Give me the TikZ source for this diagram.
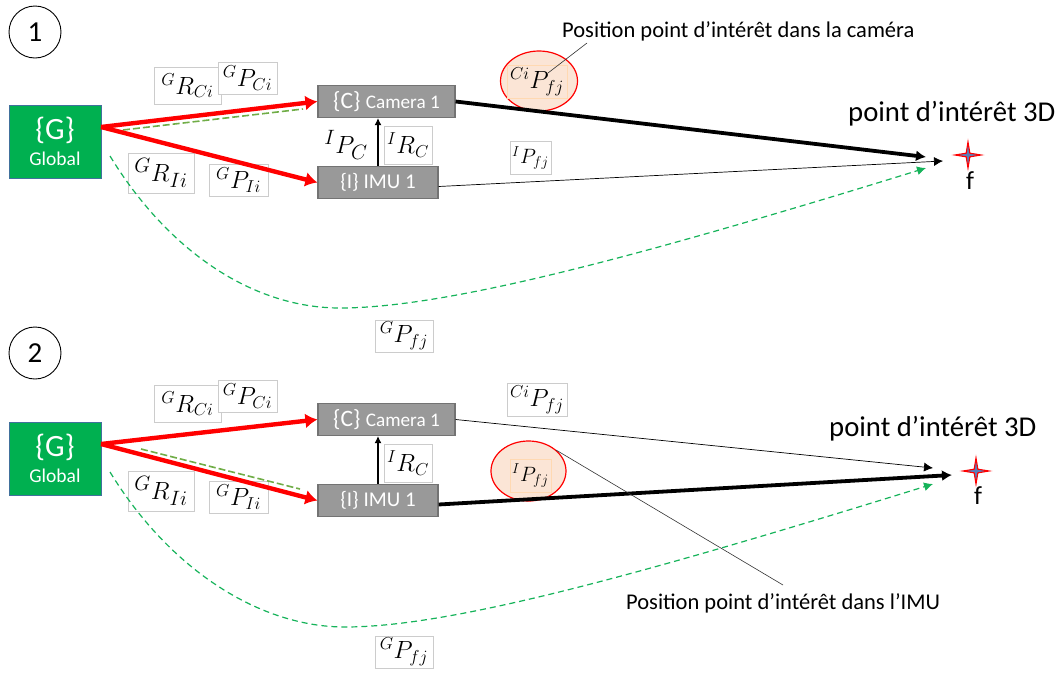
\documentclass[tikz,border=0pt]{standalone}
\usepackage{amsfonts, amsmath, amssymb}
\usepackage{fontspec}
\setmainfont{Carlito}
\usepackage{tikz}
\usetikzlibrary{arrows.meta, shapes.geometric}
\definecolor{gbox}{HTML}{00B050}
\definecolor{gedge}{HTML}{41719C}
\definecolor{dashgreen}{HTML}{70AD47}
\definecolor{curvegreen}{HTML}{16B35A}
\definecolor{peach}{HTML}{FBE5D6}
\definecolor{starcore}{HTML}{5B7DB8}
\tikzset{
    numcircle/.style={draw, shape=circle, line width=0.9pt, minimum size=52pt, inner sep=0pt, font=\fontsize{29}{32}\selectfont},
    globalbox/.style={draw=gedge, line width=1pt, fill=gbox, text=white, align=center, minimum width=92pt, minimum height=73pt, inner sep=0pt, font=\fontsize{19.5}{26}\selectfont},
    framebox/.style={draw=black!55, line width=1.2pt, fill=black!40, text=white, minimum height=32pt, inner sep=0pt, font=\fontsize{23.5}{26}\selectfont},
    mathbox/.style={draw=black!20, fill=white, inner sep=0pt, font=\fontsize{27}{30}\selectfont},
    hotbox/.style={draw=orange!30, inner sep=0pt, font=\fontsize{27}{30}\selectfont},
    smallmath/.style={font=\fontsize{21}{24}\selectfont},
    hotspot/.style={draw=red, line width=1.2pt, fill=peach, shape=ellipse, inner sep=0pt},
    redarrow/.style={draw=red, line width=4.4pt, -{Latex[length=12pt,width=15pt]}},
    boldarrow/.style={line width=3.8pt, -{Latex[length=10pt,width=11pt]}},
    thinarrow/.style={line width=0.7pt, -{Latex[length=9pt,width=9pt]}},
    uparrow/.style={line width=1.2pt, -{Latex[length=7pt,width=7pt]}},
    flatdash/.style={draw=dashgreen, line width=1.6pt, dash pattern=on 7pt off 3pt},
    curvedash/.style={draw=curvegreen, line width=1.2pt, dash pattern=on 6pt off 4pt, -{Latex[length=9pt,width=9pt]}},
    leader/.style={draw=black!80, line width=0.6pt},
    caption/.style={inner sep=0pt, font=\fontsize{22.5}{25}\selectfont},
    headline/.style={inner sep=0pt, font=\fontsize{28.7}{32}\selectfont},
    featstar/.style={draw=red, line width=1.1pt, fill=starcore, shape=star, star points=4, star point ratio=5, minimum size=26pt, inner sep=0pt},
    featname/.style={inner sep=0pt, font=\fontsize{26}{28}\selectfont}
}

\begin{document}
\begin{tikzpicture}[x=1pt, y=-1pt]
    \useasboundingbox (0,0) rectangle (1061,673);

    \node(numA)[numcircle] at (35,32) {1};
    \node(globalA)[globalbox] at (55,141.5) {{\fontsize{31}{34}\selectfont\{G\}}\\Global};
    \node(camA)[framebox, minimum width=137pt] at (386.5,101.5) {\{C\} {\fontsize{19.2}{22}\selectfont Camera 1}};
    \node(imuA)[framebox, minimum width=120pt, font=\fontsize{21}{24}\selectfont] at (378,182.5) {\{I\} IMU 1};
    \node(spotA)[hotspot, minimum width=77pt, minimum height=60pt] at (539,81) {};
    \node(rcA)[mathbox, minimum width=67pt, minimum height=37pt] at (187.5,85.5) {${}^{G}R_{Ci}$};
    \node(pcA)[mathbox, minimum width=59pt, minimum height=32pt] at (247.5,78) {${}^{G}P_{Ci}$};
    \node(riA)[mathbox, minimum width=66pt, minimum height=40pt, font=\fontsize{30}{32}\selectfont] at (161,173) {${}^{G}R_{Ii}$};
    \node(piA)[mathbox, minimum width=59pt, minimum height=32pt] at (238.5,180) {${}^{G}P_{Ii}$};
    \node(ipcA)[inner sep=0pt, font=\fontsize{28}{30}\selectfont] at (346,145) {${}^{I}P_{C}$};
    \node(ircA)[mathbox, minimum width=48pt, minimum height=38pt] at (408,145) {${}^{I}R_{C}$};
    \node(cpA)[hotbox, minimum width=60pt, minimum height=33pt] at (537,81.5) {${}^{Ci}P_{fj}$};
    \node(ipA)[mathbox, smallmath, minimum width=41pt, minimum height=33pt] at (530.5,158) {${}^{I}P_{fj}$};
    \node(gpA)[mathbox, minimum width=58pt, minimum height=32pt] at (404,336) {${}^{G}P_{fj}$};
    \node(capA)[caption, anchor=west] at (562,31) {Position point d’intérêt dans la caméra};
    \node(headA)[headline, anchor=west] at (848,114) {point d’intérêt 3D};
    \node(starA)[featstar] at (968,155) {};
    \node(fA)[featname] at (970,181) {f};
    \coordinate(outA) at (101,127);
    \coordinate(boldtipA) at (926,157);
    \coordinate(thintipA) at (943,161);
    \coordinate(curvetipA) at (926,168);
    \coordinate(curvestartA) at (110,156);
    \coordinate(curvelowA) at (340,308);
    \coordinate(dashstartA) at (123,130);
    \coordinate(dashendA) at (303,109);
    \coordinate(leadstartA) at (587,43);
    \coordinate(leadendA) at (548,73);
    \draw[flatdash] (dashstartA) -- (dashendA);
    \draw[redarrow] (outA) -- (camA.west);
    \draw[redarrow] (outA) -- (imuA.west);
    \draw[uparrow] (imuA.north) -- (imuA.north |- camA.south);
    \draw[boldarrow] (camA.east) -- (boldtipA);
    \draw[thinarrow] ([yshift=-4pt]imuA.east) -- (thintipA);
    \draw[curvedash] (curvestartA) .. controls (170,254) and (255,308) .. (curvelowA) .. controls (445,308) and (635,258) .. (curvetipA);
    \draw[leader] (leadstartA) -- (leadendA);

    \node(numB)[numcircle] at (35,353) {2};
    \node(globalB)[globalbox] at (55,458.5) {{\fontsize{31}{34}\selectfont\{G\}}\\Global};
    \node(camB)[framebox, minimum width=137pt] at (386.5,419.5) {\{C\} {\fontsize{19.2}{22}\selectfont Camera 1}};
    \node(imuB)[framebox, minimum width=120pt, font=\fontsize{21}{24}\selectfont] at (378,500.5) {\{I\} IMU 1};
    \node(spotB)[hotspot, minimum width=75pt, minimum height=60pt] at (528.5,471) {};
    \node(rcB)[mathbox, minimum width=67pt, minimum height=37pt] at (187.5,403.5) {${}^{G}R_{Ci}$};
    \node(pcB)[mathbox, minimum width=59pt, minimum height=32pt] at (247.5,396) {${}^{G}P_{Ci}$};
    \node(riB)[mathbox, minimum width=66pt, minimum height=40pt, font=\fontsize{30}{32}\selectfont] at (161,491) {${}^{G}R_{Ii}$};
    \node(piB)[mathbox, minimum width=59pt, minimum height=32pt] at (238.5,497) {${}^{G}P_{Ii}$};
    \node(ircB)[mathbox, minimum width=48pt, minimum height=38pt] at (408,463) {${}^{I}R_{C}$};
    \node(cpB)[mathbox, minimum width=60pt, minimum height=33pt] at (537,399.5) {${}^{Ci}P_{fj}$};
    \node(ipB)[hotbox, smallmath, minimum width=41pt, minimum height=33pt] at (530.5,475.5) {${}^{I}P_{fj}$};
    \node(gpB)[mathbox, minimum width=58pt, minimum height=32pt] at (404,652) {${}^{G}P_{fj}$};
    \node(capB)[caption, anchor=west] at (626,603) {Position point d’intérêt dans l’IMU};
    \node(headB)[headline, anchor=west] at (829,429) {point d’intérêt 3D};
    \node(starB)[featstar] at (976,471) {};
    \node(fB)[featname] at (978,496) {f};
    \coordinate(outB) at (101,444);
    \coordinate(boldtipB) at (952,475);
    \coordinate(thintipB) at (933,468);
    \coordinate(curvetipB) at (933,484);
    \coordinate(curvestartB) at (110,472);
    \coordinate(curvelowB) at (345,627);
    \coordinate(dashstartB) at (141,449);
    \coordinate(dashendB) at (300,489);
    \coordinate(leadstartB) at (556,450);
    \coordinate(leadendB) at (783,585);
    \draw[flatdash] (dashstartB) -- (dashendB);
    \draw[redarrow] (outB) -- (camB.west);
    \draw[redarrow] (outB) -- (imuB.west);
    \draw[uparrow] (imuB.north) -- (imuB.north |- camB.south);
    \draw[thinarrow] (camB.east) -- (thintipB);
    \draw[boldarrow] ([yshift=-4pt]imuB.east) -- (boldtipB);
    \draw[curvedash] (curvestartB) .. controls (170,570) and (260,627) .. (curvelowB) .. controls (450,627) and (640,575) .. (curvetipB);
    \draw[leader] (leadstartB) -- (leadendB);
\end{tikzpicture}
\end{document}
